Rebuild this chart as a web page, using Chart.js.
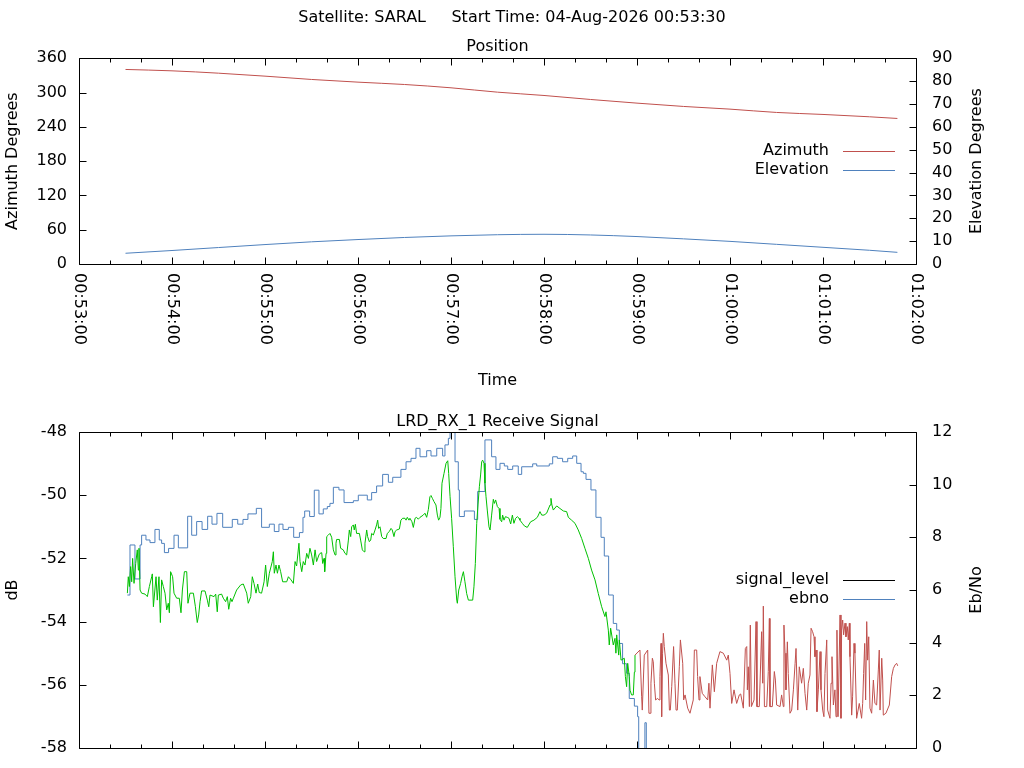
<!DOCTYPE html>
<html>
<head>
<meta charset="utf-8">
<title>SARAL pass</title>
<script src="https://cdn.jsdelivr.net/npm/chart.js@4.4.1/dist/chart.umd.min.js"></script>
<style>
  html, body { margin: 0; padding: 0; background: #fff; overflow: hidden; }
  canvas { position: absolute; left: 0; }
  #pos { top: 0; }
  #sig { top: 400px; }
</style>
</head>
<body>
<canvas id="pos" width="1024" height="400"></canvas>
<canvas id="sig" width="1024" height="368"></canvas>
<script>
// pass start, x values are seconds after this clock time
const startClock = '00:53:00';

// position plot
const posSec = [30, 60, 90, 120, 150, 180, 210, 240, 270, 300, 330, 360, 390, 420, 450, 480, 510, 528];
const azimuth = [340.3, 337.9, 333.8, 328.6, 322.8, 318.1, 314.0, 308.2, 300.6, 294.8, 287.8, 281.4, 275.6, 270.9, 265.1, 261.6, 257.5, 254.6];
const elevation = [4.7, 5.9, 7.2, 8.5, 9.7, 10.7, 11.6, 12.3, 12.8, 13.0, 12.7, 12.0, 11.0, 9.9, 8.6, 7.3, 6.0, 5.1];

// receive signal plot: signal level (dB)
const sigSec = [
  31.2, 31.8, 32.5, 33.3, 34.0, 34.6, 35.5, 36.6, 37.6, 38.3, 38.7, 39.4, 40.4, 42.6, 44.1, 45.4, 46.9, 47.3, 48.0, 49.7,
  50.5, 51.6, 52.5, 53.3, 54.4, 55.5, 56.6, 57.6, 58.3, 59.1, 60.4, 61.3, 63.0, 64.7, 65.8, 66.7, 68.0, 69.5, 70.3, 71.6,
  73.8, 75.1, 76.3, 77.2, 78.1, 79.1, 81.3, 82.8, 83.7, 84.5, 87.1, 88.2, 89.2, 89.9, 92.0, 93.1, 94.6, 95.7, 96.6, 97.8,
  98.7, 99.6, 101.7, 104.3, 106.0, 108.2, 109.2, 110.8, 111.8, 112.9, 114.2, 115.3, 116.3, 117.8, 119.4, 120.4, 121.5, 122.8, 124.7, 125.4,
  126.0, 127.1, 128.0, 129.0, 130.1, 131.4, 134.0, 135.1, 136.8, 138.3, 139.4, 140.4, 141.9, 142.6, 143.7, 144.7, 145.8, 146.9, 148.0, 149.0,
  150.1, 151.2, 152.3, 153.3, 154.8,
  155.5, 156.6, 157.2, 158.1, 158.5, 159.4, 159.8, 160.9, 161.9, 163.0, 164.1, 165.2, 165.8, 166.2, 168.0, 168.8, 170.5, 171.6, 172.7, 173.8,
  174.4, 175.3, 175.9, 177.0, 177.6, 178.3, 179.1, 180.9, 181.7, 182.8, 183.9, 184.5, 185.6, 186.2, 187.3, 188.2, 188.8, 189.9, 191.0, 192.0,
  192.7, 193.3, 194.2, 195.3, 196.3, 198.1, 198.9, 200.2, 201.3, 202.1, 203.2, 203.9, 205.0, 206.7, 207.7, 208.8, 210.3, 211.0, 211.8, 212.9,
  213.5, 214.8, 215.7, 216.8, 217.8, 218.9, 220.0, 222.1, 223.2, 224.3, 225.4, 226.4, 227.1, 228.0, 229.0, 230.3, 231.2, 232.0, 232.9, 233.5,
  234.2, 235.5, 236.8, 237.9, 238.5, 239.4, 240.4, 241.5, 242.6, 243.7, 244.1, 245.0, 246.2, 247.1, 248.0, 249.0, 250.1, 251.2, 254.0, 254.8,
  255.7, 256.6, 257.4, 258.3, 259.1, 259.8, 260.4, 261.3, 261.9, 262.6, 263.4, 264.5, 265.2, 266.2, 267.3, 268.0, 268.8, 269.9, 271.0, 271.6,
  272.7, 273.3, 274.2, 275.1, 276.3, 277.4, 278.5, 279.6, 280.6, 281.7, 282.8, 283.9,
  284.5, 286.0, 287.3, 289.2, 291.4, 293.5, 295.7, 297.4, 298.5, 300.0, 301.7, 303.9, 304.5, 305.1, 306.0, 308.2, 310.3, 312.5, 314.6, 315.7,
  317.8, 320.0, 322.1, 324.3, 326.4, 328.6, 330.7, 332.9, 335.0, 337.2, 339.3, 340.0, 341.5, 342.1, 343.0, 344.7, 345.8, 346.4, 346.9, 348.2,
  348.6, 349.7, 350.3, 351.8, 352.5, 353.3, 354.0, 355.0, 355.5, 356.5, 357.6, 358.3,
  358.7, 361.9, 363.0, 363.4, 364.7, 366.9, 367.7, 368.4, 369.0, 369.9, 370.5, 371.2, 372.0, 373.3, 374.2, 374.8, 375.5, 375.9, 376.5, 377.0,
  377.6, 378.7, 380.2, 380.9, 381.5, 382.4, 383.6, 384.5, 385.2, 386.0, 387.3, 388.0, 389.5, 390.1, 391.0, 392.7, 394.2, 396.3, 397.0, 398.5,
  399.1, 400.0, 400.6, 402.1, 403.9, 405.6, 406.4, 407.1,
  408.6, 409.9, 411.4, 413.5, 415.7, 417.9, 418.9, 420.0, 421.1, 422.6, 424.3, 426.0, 426.9, 428.6, 429.9, 430.8, 431.2, 431.8, 432.5, 433.1,
  433.8, 435.5, 436.8, 437.4, 438.9, 440.4, 441.1, 441.5, 442.2, 443.7, 444.7, 445.4, 445.8, 447.3, 448.6, 449.3, 450.1, 452.3, 453.3, 454.4,
  454.8, 455.5, 456.1, 457.0, 457.6, 458.7, 459.8, 460.9, 462.0, 462.6, 463.7, 464.7, 466.2, 467.3, 468.4, 469.5, 470.5, 471.6, 472.3, 473.3,
  474.2, 474.8, 475.5, 476.1, 477.0, 478.1, 478.7, 479.8, 480.6, 481.3, 482.4, 483.0, 484.5, 485.2, 485.8, 486.7, 487.7, 488.4, 489.0, 489.7,
  491.0, 491.6, 492.0, 492.7, 493.3, 494.2, 494.8, 495.7, 496.3, 497.0, 497.4, 498.5, 499.1, 500.0, 500.6, 501.7, 503.4, 504.9, 505.6, 506.2,
  506.9, 507.5, 508.2, 508.8, 509.5, 510.3, 511.4, 512.5, 513.5, 514.6, 515.7, 516.3, 516.8, 517.9, 518.5, 518.9, 520.6, 522.8, 524.3, 525.4,
  526.5, 527.5, 528.2
];
const sigDb = [
  -53.10, -52.58, -52.89, -52.26, -52.74, -52.00, -52.79, -52.16, -51.73, -52.37, -51.68, -53.00, -53.10, -53.13, -53.21, -52.89, -52.58, -52.49, -53.53, -52.58,
  -53.32, -52.58, -54.03, -52.68, -52.89, -53.10, -53.63, -53.42, -53.72, -52.42, -52.58, -53.10, -53.26, -53.26, -53.72, -53.00, -52.42, -52.42, -53.42, -53.10,
  -53.10, -53.53, -54.03, -53.79, -53.37, -53.03, -53.03, -53.32, -53.53, -53.16, -53.21, -53.13, -53.69, -53.16, -53.13, -53.26, -53.37, -53.21, -53.61, -53.26,
  -53.37, -53.26, -53.00, -52.84, -52.81, -53.10, -53.42, -53.21, -52.58, -52.79, -53.10, -52.81, -53.08, -53.10, -52.74, -52.21, -52.89, -52.47, -52.10, -51.79,
  -52.47, -52.21, -52.47, -52.21, -52.42, -52.74, -52.74, -52.58, -52.68, -52.79, -52.10, -52.24, -51.52, -52.10, -52.42, -52.10, -52.21, -51.84, -52.00, -51.68,
  -51.89, -52.21, -51.73, -52.10, -51.89,
  -51.84, -51.82, -52.16, -52.00, -52.42, -51.84, -51.31, -51.26, -51.21, -51.33, -51.73, -51.89, -51.52, -51.40, -51.40, -51.68, -51.73, -51.84, -51.89, -51.42,
  -51.10, -51.31, -51.00, -50.94, -51.10, -50.92, -51.21, -51.21, -51.42, -51.73, -51.79, -51.52, -51.10, -51.31, -51.47, -51.42, -51.21, -51.26, -51.10, -50.94,
  -50.79, -51.05, -51.00, -51.31, -51.37, -51.37, -51.21, -51.15, -51.05, -51.10, -51.31, -51.15, -51.10, -51.07, -50.79, -50.73, -50.73, -50.79, -50.70, -50.79,
  -50.73, -50.84, -51.02, -50.73, -50.70, -50.76, -50.70, -50.63, -50.57, -50.70, -50.45, -50.05, -50.01, -50.10, -50.20, -50.31, -50.63, -50.79, -50.70, -50.42,
  -49.62, -49.31, -48.99, -48.91, -49.31, -50.05, -50.73, -51.63, -52.58, -53.32, -53.42, -53.00, -52.79, -52.58, -52.42, -52.74, -53.11, -53.32, -53.32, -52.90,
  -52.16, -50.89, -50.31, -49.73, -49.36, -48.94, -48.89, -48.99, -49.62, -50.05, -50.47, -51.00, -51.10, -50.63, -50.13, -50.26, -50.15, -50.36, -50.42, -50.76,
  -50.84, -50.63, -50.79, -50.68, -50.70, -50.73, -50.91, -50.63, -50.89, -50.73, -50.68, -50.73,
  -50.79, -50.89, -50.97, -51.02, -50.84, -50.79, -50.70, -50.52, -50.63, -50.63, -50.57, -50.31, -50.10, -50.31, -50.47, -50.34, -50.42, -50.50, -50.52, -50.70,
  -50.79, -50.89, -51.10, -51.37, -51.68, -52.00, -52.37, -52.68, -53.11, -53.53, -53.84, -53.69, -54.27, -54.74, -54.21, -54.74, -54.53, -55.00, -54.42, -55.06,
  -54.58, -55.22, -55.22, -55.16, -55.74, -56.06, -55.32, -55.74, -56.17, -56.32, -56.32, -55.60,
  -55.06, -54.90, -56.38, -56.80, -55.06, -54.90, -56.90, -56.90, -55.95, -55.16, -55.27, -55.95, -56.48, -56.43, -56.48, -55.74, -54.69, -57.01, -55.00, -54.37,
  -54.79, -55.32, -55.69, -56.80, -56.80, -56.06, -54.79, -55.95, -56.80, -56.80, -55.43, -54.58, -55.32, -56.48, -56.32, -56.74, -56.90, -56.48, -54.90, -54.90,
  -55.74, -56.48, -55.74, -56.27, -56.38, -56.48, -55.95, -56.74,
  -55.37, -56.22, -55.32, -54.95, -55.00, -55.22, -55.06, -55.64, -56.59, -56.16, -56.59, -56.32, -56.29, -56.74, -54.85, -54.79, -56.16, -55.43, -56.69, -54.11,
  -56.69, -56.48, -54.00, -56.69, -56.69, -54.32, -55.95, -53.51, -56.69, -56.69, -55.58, -53.90, -56.69, -56.69, -55.58, -55.85, -56.64, -56.69, -56.32, -56.69,
  -54.11, -55.00, -56.16, -54.64, -55.64, -56.90, -56.80, -56.16, -55.32, -54.85, -56.80, -55.43, -55.95, -55.48, -56.27, -56.80, -55.95, -55.69, -54.21, -54.32,
  -54.48, -55.11, -54.90, -56.85, -56.16, -54.95, -56.16, -56.80, -57.01, -55.64, -54.58, -56.80, -57.06, -55.95, -55.11, -56.64, -56.16, -57.01, -54.27, -57.01,
  -53.79, -57.06, -54.27, -53.95, -54.42, -54.05, -54.48, -54.16, -54.58, -54.05, -55.11, -56.96, -56.38, -54.69, -55.00, -57.06, -56.59, -57.06, -56.59, -55.64,
  -54.69, -56.48, -54.00, -55.22, -54.48, -56.74, -56.90, -55.85, -56.59, -56.64, -55.53, -54.90, -56.80, -55.16, -55.85, -56.96, -56.90, -56.64, -55.74, -55.48,
  -55.37, -55.32, -55.40
];
// receiver loses lock here, signal_level is drawn red after it
const lockLostSec = 358.5;

// receive signal plot: Eb/No
const ebSec = [
  31.2, 32.9, 36.1, 39.4, 40.4, 43.2, 45.8, 49.0, 51.8, 53.3, 55.1, 57.8, 61.3, 64.1, 70.1, 72.7, 75.9, 79.4, 83.0, 85.8,
  89.0, 92.7, 98.9, 102.4, 105.8, 109.0, 114.4, 117.8, 122.8, 126.0, 129.0, 131.6, 135.1, 138.5, 142.2, 144.5, 145.6, 148.8, 151.8, 154.8,
  157.6, 160.2, 161.9, 164.1, 167.7, 171.0, 177.0, 180.2, 186.0, 188.8, 192.0, 195.9, 199.6, 202.4, 207.7, 211.0, 214.2, 217.4, 220.0, 224.3,
  227.1, 230.8, 234.6, 236.1, 238.3, 239.4, 241.5, 242.6, 244.7, 245.4, 248.6, 255.1, 257.2, 261.9, 266.2, 269.0, 271.6, 274.4, 276.6, 279.8,
  283.4, 285.6, 292.7, 295.3, 303.4, 305.6, 308.6, 312.0, 315.3, 318.5, 321.1, 323.9, 325.4, 327.1, 330.3, 333.5, 336.8, 338.9, 341.7, 344.7,
  346.9, 348.6, 350.7, 353.3, 355.0, 358.3, 360.4, 361.1, 365.1, 366.0
];
const ebno = [
  5.81, 7.71, 6.42, 7.71, 8.08, 7.90, 7.80, 8.30, 7.90, 7.77, 7.42, 7.58, 8.08, 7.60, 8.80, 8.08, 8.60, 8.30, 8.80, 8.50,
  8.91, 8.38, 8.68, 8.50, 8.68, 8.89, 9.10, 8.38, 8.50, 8.22, 8.50, 8.30, 8.38, 8.00, 8.18, 8.76, 9.00, 8.79, 9.79, 8.89,
  9.08, 9.17, 9.29, 9.90, 9.80, 9.32, 9.39, 9.60, 9.42, 9.70, 9.95, 10.39, 10.09, 10.28, 10.58, 10.87, 11.00, 11.38, 11.06, 11.29,
  11.09, 11.38, 11.09, 11.51, 11.76, 12.30, 12.30, 10.87, 9.80, 8.79, 9.00, 8.68, 9.74, 11.70, 11.06, 10.58, 10.81, 10.71, 10.58, 10.71,
  10.39, 10.68, 10.79, 10.71, 10.79, 11.06, 11.00, 10.87, 11.00, 11.09, 10.81, 10.49, 10.43, 10.20, 9.80, 8.76, 8.00, 7.29, 5.81, 4.73,
  4.48, 3.97, 3.20, 2.84, 1.88, 1.59, 1.19, -0.30, 0.96, -0.30
];

const RED = '#c0504d';
const BLUE = '#4f81bd';
const GREEN = '#00c000';
const FONT = '16px "DejaVu Sans"';

function clock(sec) {
  const [h, m, s] = startClock.split(':').map(Number);
  const t = h * 3600 + m * 60 + s + sec;
  const p = n => String(n).padStart(2, '0');
  return p(Math.floor(t / 3600)) + ':' + p(Math.floor(t / 60) % 60) + ':' + p(Math.round(t % 60));
}

function points(xs, ys) {
  return xs.map((x, i) => ({x: x, y: ys[i]}));
}

// gnuplot style: closed border, inward ticks, rotated time labels, legend inside the plot
const gnuplotLook = {
  id: 'gnuplotLook',
  afterDraw(chart, args, o) {
    const {ctx, chartArea: a, scales} = chart;
    const x = scales.x;
    const L = Math.round(a.left) + 0.5, R = Math.round(a.right) + 0.5;
    const T = Math.round(a.top) + 0.5, B = Math.round(a.bottom) + 0.5;
    ctx.save();
    ctx.strokeStyle = '#000';
    ctx.lineWidth = 1;
    ctx.beginPath();
    ctx.moveTo(L, T); ctx.lineTo(R, T); ctx.lineTo(R, B); ctx.lineTo(L, B); ctx.closePath();
    const step = x.ticks.length > 1 ? x.ticks[1].value - x.ticks[0].value : 60;
    x.ticks.forEach(t => {
      for (let k = 0; k < 3; k++) {
        const v = t.value + k * step / 3;
        if (v > x.max) break;
        const px = Math.round(x.getPixelForValue(v)) + 0.5;
        const len = k === 0 ? 7 : 4;
        ctx.moveTo(px, B); ctx.lineTo(px, B - len);
        ctx.moveTo(px, T); ctx.lineTo(px, T + len);
      }
    });
    Object.values(scales).filter(s => s.axis === 'y').forEach(s => {
      s.ticks.forEach(t => {
        const py = Math.round(s.getPixelForValue(t.value)) + 0.5;
        if (s.position === 'left') { ctx.moveTo(L, py); ctx.lineTo(L + 7, py); }
        else { ctx.moveTo(R, py); ctx.lineTo(R - 7, py); }
      });
    });
    ctx.stroke();

    ctx.fillStyle = '#000';
    ctx.font = FONT;
    if (o.timeLabels) {
      x.ticks.forEach(t => {
        ctx.save();
        ctx.translate(x.getPixelForValue(t.value), a.bottom + 9);
        ctx.rotate(Math.PI / 2);
        ctx.textAlign = 'left';
        ctx.textBaseline = 'middle';
        ctx.fillText(clock(t.value), 0, 0);
        ctx.restore();
      });
    }
    if (o.rightTitle) {
      ctx.save();
      ctx.translate(o.rightTitleX, (a.top + a.bottom) / 2);
      ctx.rotate(-Math.PI / 2);
      ctx.textAlign = 'center';
      ctx.textBaseline = 'middle';
      ctx.fillText(o.rightTitle, 0, 0);
      ctx.restore();
    }
    chart.data.datasets.forEach((ds, i) => {
      const y = o.legendY + i * 19;
      ctx.textAlign = 'right';
      ctx.textBaseline = 'middle';
      ctx.fillText(ds.label, o.legendX - 66, y);
      ctx.strokeStyle = ds.borderColor;
      ctx.beginPath();
      ctx.moveTo(o.legendX - 52, y + 0.5);
      ctx.lineTo(o.legendX, y + 0.5);
      ctx.stroke();
    });
    ctx.restore();
  }
};

Chart.defaults.font.family = '"DejaVu Sans"';
Chart.defaults.font.size = 16;
Chart.defaults.color = '#000';

const noGrid = {display: false, drawTicks: false};

function timeAxis(height, title) {
  return {
    type: 'linear', min: 0, max: 540,
    ticks: {stepSize: 60, display: false},
    grid: noGrid, border: {display: false},
    title: title ? {display: true, text: title, padding: {top: 0, bottom: 9.5}} : {display: false},
    afterFit: s => { s.height = height; }
  };
}

function valueAxis(side, min, max, step, title) {
  return {
    type: 'linear', position: side, min: min, max: max,
    ticks: {stepSize: step, padding: side === 'left' ? 12 : 16},
    grid: noGrid, border: {display: false},
    title: title ? {display: true, text: title, padding: {top: 3, bottom: 0}} : {display: false},
    afterFit: s => {
      s.width = side === 'left' ? 79 : 108;
      // end labels may overhang the plot, the titles and bottom axis leave room for them
      s.paddingTop = 0;
      s.paddingBottom = 0;
    }
  };
}

new Chart(document.getElementById('pos'), {
  type: 'line',
  data: {
    datasets: [
      {label: 'Azimuth', data: points(posSec, azimuth), yAxisID: 'yAz', borderColor: RED},
      {label: 'Elevation', data: points(posSec, elevation), yAxisID: 'yEl', borderColor: BLUE}
    ]
  },
  options: {
    responsive: false, animation: false, devicePixelRatio: 1,
    layout: {padding: 0},
    elements: {line: {borderWidth: 1, cubicInterpolationMode: 'monotone'}, point: {radius: 0}},
    scales: {
      x: timeAxis(136, 'Time'),
      yAz: valueAxis('left', 0, 360, 60, 'Azimuth Degrees'),
      yEl: valueAxis('right', 0, 90, 10, null)
    },
    plugins: {
      legend: {display: false},
      tooltip: {enabled: false},
      title: {display: true, text: 'Satellite: SARAL     Start Time: 04-Aug-2026 00:53:30',
              font: {size: 16, weight: 'normal'}, color: '#000', padding: {top: 8, bottom: 0}},
      subtitle: {display: true, text: 'Position', fullSize: false,
                 font: {size: 16}, color: '#000', padding: {top: 10, bottom: 1.8}},
      gnuplotLook: {timeLabels: true, rightTitle: 'Elevation Degrees', rightTitleX: 977, legendX: 895, legendY: 151}
    }
  },
  plugins: [gnuplotLook]
});

new Chart(document.getElementById('sig'), {
  type: 'line',
  data: {
    datasets: [
      {label: 'signal_level', data: points(sigSec, sigDb), yAxisID: 'yDb', borderColor: '#000',
       segment: {borderColor: c => c.p0.parsed.x < lockLostSec ? GREEN : RED}},
      {label: 'ebno', data: points(ebSec, ebno), yAxisID: 'yEb', borderColor: BLUE, stepped: true}
    ]
  },
  options: {
    responsive: false, animation: false, devicePixelRatio: 1,
    layout: {padding: 0},
    elements: {line: {borderWidth: 1, tension: 0}, point: {radius: 0}},
    scales: {
      x: timeAxis(20, null),
      yDb: valueAxis('left', -58, -48, 2, 'dB'),
      yEb: valueAxis('right', 0, 12, 2, null)
    },
    plugins: {
      legend: {display: false},
      tooltip: {enabled: false},
      title: {display: true, text: 'LRD_RX_1 Receive Signal', fullSize: false,
              font: {size: 16, weight: 'normal'}, color: '#000', padding: {top: 12, bottom: 0.8}},
      gnuplotLook: {timeLabels: false, rightTitle: 'Eb/No', rightTitleX: 977, legendX: 895, legendY: 180}
    }
  },
  plugins: [gnuplotLook]
});
</script>
</body>
</html>
